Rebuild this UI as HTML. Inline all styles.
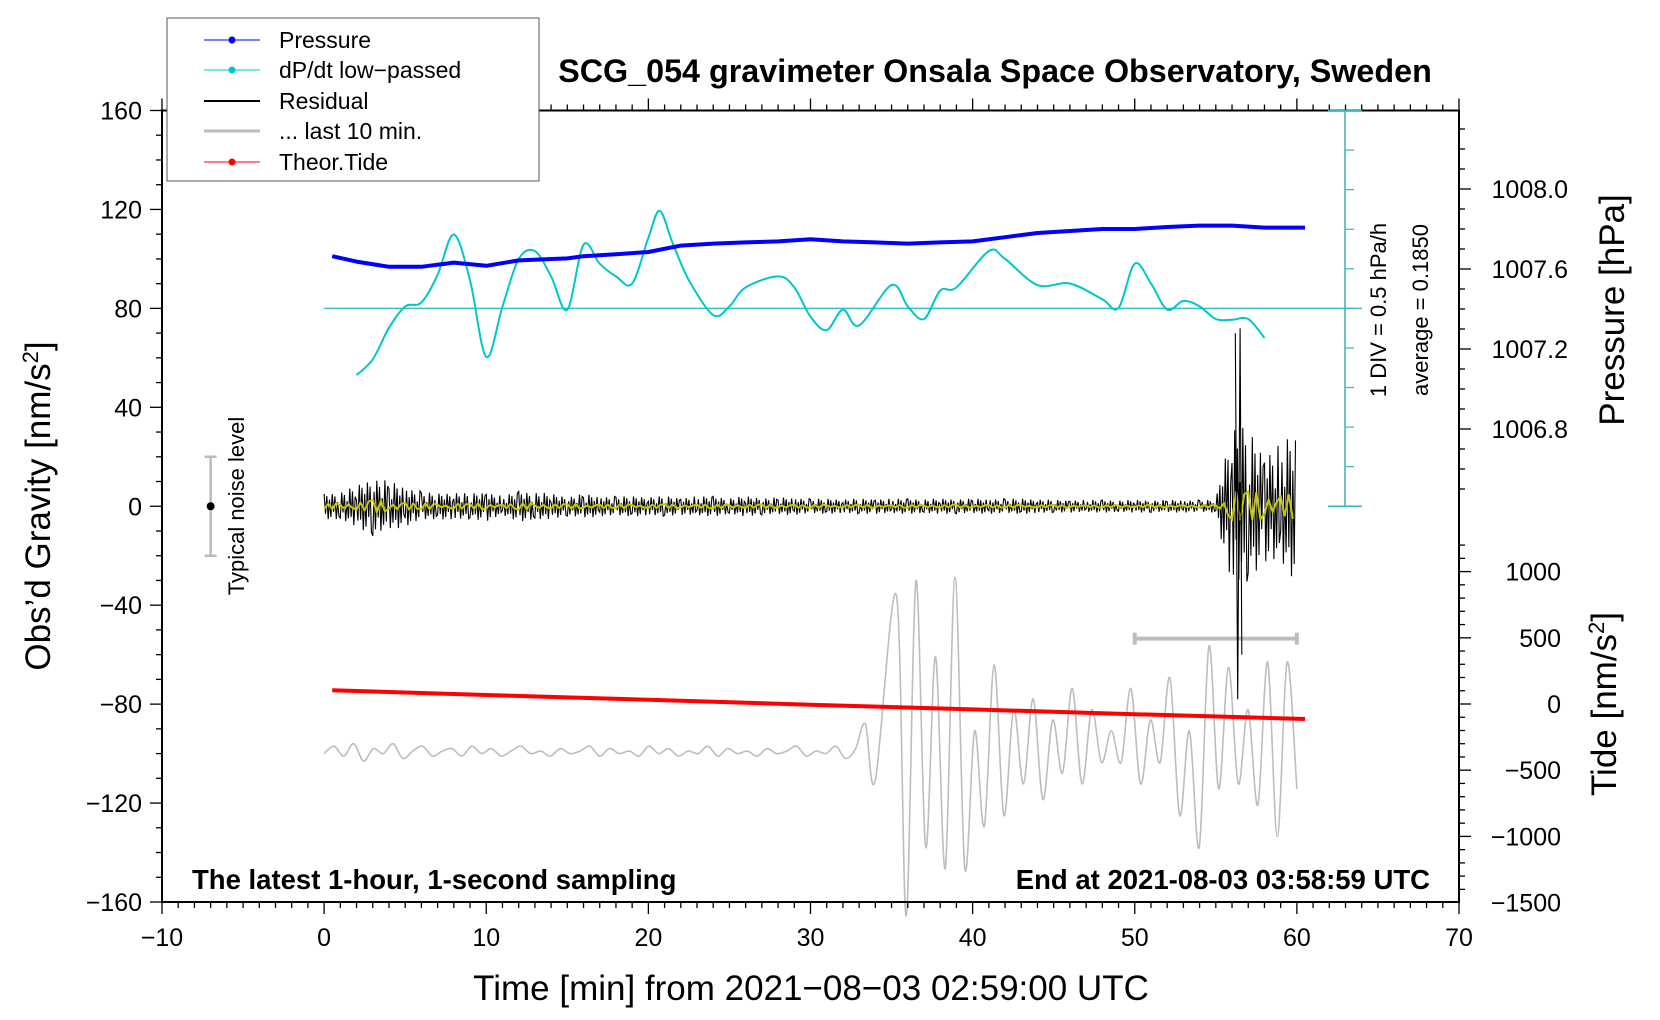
<!DOCTYPE html>
<html><head><meta charset="utf-8"><style>
html,body{margin:0;padding:0;background:#fff;}
svg{display:block;font-family:"Liberation Sans",sans-serif;}
</style></head><body>
<svg id="chart" width="1660" height="1020" viewBox="0 0 1660 1020" xmlns="http://www.w3.org/2000/svg">
<g id="grid"></g>
<g id="series"></g>
<g id="axes"></g>
<g id="labels">
<text x="995" y="82" font-size="32.3" font-weight="bold" text-anchor="middle">SCG_054 gravimeter Onsala Space Observatory, Sweden</text>
<text x="192" y="889" font-size="27.5" font-weight="bold">The latest 1-hour, 1-second sampling</text>
<text x="1430" y="889" font-size="27.5" font-weight="bold" text-anchor="end">End at 2021-08-03 03:58:59 UTC</text>
<text x="811" y="1000" font-size="35" text-anchor="middle">Time [min] from 2021−08−03 02:59:00 UTC</text>
<text transform="translate(50,506) rotate(-90)" font-size="35" text-anchor="middle">Obs’d Gravity [nm/s<tspan baseline-shift="super" font-size="22">2</tspan>]</text>
<text transform="translate(1624,310) rotate(-90)" font-size="35" text-anchor="middle">Pressure [hPa]</text>
<text transform="translate(1616,704) rotate(-90)" font-size="35" text-anchor="middle">Tide [nm/s<tspan baseline-shift="super" font-size="22">2</tspan>]</text>
<text transform="translate(244,506) rotate(-90)" font-size="22" text-anchor="middle">Typical noise level</text>
<text transform="translate(1386,310) rotate(-90)" font-size="22" text-anchor="middle">1 DIV = 0.5 hPa/h</text>
<text transform="translate(1428,310) rotate(-90)" font-size="22" text-anchor="middle">average = 0.1850</text>
</g>
<g id="legend">
<rect x="167" y="18" width="372" height="163" fill="#fff" stroke="#555" stroke-width="1"/>
<g><line x1="204" y1="40" x2="260" y2="40" stroke="#0000ff" stroke-width="1"/><circle cx="232" cy="40" r="3.5" fill="#0000ff"/><text x="279" y="48" font-size="23">Pressure</text></g>
<g><line x1="204" y1="70" x2="260" y2="70" stroke="#00c8c8" stroke-width="1"/><circle cx="232" cy="70" r="3.5" fill="#00c8c8"/><text x="279" y="78" font-size="23">dP/dt low−passed</text></g>
<g><line x1="204" y1="101" x2="260" y2="101" stroke="#000" stroke-width="2"/><text x="279" y="109" font-size="23">Residual</text></g>
<g><line x1="204" y1="131" x2="260" y2="131" stroke="#bbb" stroke-width="3"/><text x="279" y="139" font-size="23">... last 10 min.</text></g>
<g><line x1="204" y1="162" x2="260" y2="162" stroke="#ff0000" stroke-width="1"/><circle cx="232" cy="162" r="3.5" fill="#ff0000"/><text x="279" y="170" font-size="23">Theor.Tide</text></g>
</g>
</svg>
<script>
// ---- data ----
const xTicks = [-10,0,10,20,30,40,50,60,70];
const yTicks = [160,120,80,40,0,-40,-80,-120,-160];
const pTicks = [1008.0,1007.6,1007.2,1006.8];
const tideTicks = [1000,500,0,-500,-1000,-1500];
const pressTimes = [0.5,2,4,6,8,10,12,15,16,18,20,22,24,26,28,30,32,34,36,38,40,42,44,46,48,50,52,54,56,58,60.5];
const pressVals = [1007.664,1007.637,1007.611,1007.611,1007.632,1007.616,1007.643,1007.653,1007.664,1007.674,1007.685,1007.717,1007.727,1007.733,1007.738,1007.749,1007.738,1007.733,1007.727,1007.733,1007.738,1007.759,1007.78,1007.79,1007.80,1007.80,1007.81,1007.817,1007.817,1007.807,1007.807];
const dpTimes = [2,3,4,5,6,7,8,9,10,11,12,13,14,15,16,17,18,19,20,20.7,21.5,22.5,24,25,26,28,29,30,31,32,33,35,36,37,38,39,41,42,44,46,48,49,50,51,52,53,54,55,56,57,58];
const dpVals = [-0.66,-0.46,-0.06,0.21,0.26,0.61,1.12,0.54,-0.43,0.21,0.81,0.91,0.59,0.17,0.99,0.75,0.59,0.50,1.08,1.42,1.01,0.54,0.10,0.21,0.45,0.59,0.45,0.08,-0.09,0.17,-0.03,0.48,0.21,0.05,0.41,0.45,0.91,0.81,0.48,0.50,0.30,0.19,0.75,0.50,0.17,0.28,0.21,0.05,0.04,0.05,-0.19];
const dpAverage = 0.185;
const residAmp = [5,6,8,12,10,8,6,5,6,5,6,4,6,6,5,4,5,4,4,4,4,4,3.5,4,4,3.5,4,3.5,3.5,3.5,3,3,3,3,3,3,3,3,3,3,3,3,3,3,3,2.5,2.5,2.5,2.5,2.5,2.5,2.5,2.5,2.5,2.5,2.5,35,30,22,25,30];
const greyEarly = [-100,-97,-101,-96,-103,-98,-100,-96,-102,-99,-97,-101,-99,-98,-101,-97,-100,-98,-101,-99,-97,-100,-99,-101,-98,-100,-99,-97,-101,-98,-100,-99,-101,-97,-100,-98,-101,-99,-100,-97,-101,-98,-100,-99,-101,-98,-100,-99,-97,-101,-99,-100,-97,-102,-98,-88,-111];
const greyPeaks = [-36,-175,-30,-137.9,-60.8,-146.4,-28.7,-146.4,-90.8,-129.3,-64.2,-125,-82.2,-112.2,-77.9,-118.6,-86.5,-107.9,-73.7,-112.2,-82.2,-103.6,-90.8,-103.6,-73.7,-112.2,-86.5,-103.6,-69.4,-125,-90.8,-137.9,-56.5,-114.3,-65.1,-112.2,-82.2,-120.8,-63,-133.6,-63,-114.3];
const tideTimes = [0.5,10,20,30,40,50,60.5];
const tideVals = [104,68,32,-5,-41,-77,-113];

const X0=162, X1=1459, Yt=110.5, Yb=902;
const xS = t => X0 + (t+10)/80*(X1-X0);
const yS = g => Yt + (160-g)/320*(Yb-Yt);
const pS = p => 189 + (1008.0-p)*200;
const tS = v => 704 - v*0.1324;
const dS = v => yS(80) - (v-dpAverage)*79;

const NS="http://www.w3.org/2000/svg";
function mk(tag, attrs, parent){const e=document.createElementNS(NS,tag);for(const k in attrs)e.setAttribute(k,attrs[k]);parent.appendChild(e);return e;}
const axes=document.getElementById('axes'), ser=document.getElementById('series');

let fr=mk('rect',{x:X0,y:Yt,width:X1-X0,height:Yb-Yt,fill:'none',stroke:'#000','stroke-width':2},axes);



for(let m=-10;m<=70;m++){
  const x=xS(m), major=m%10===0, L=major?12:6;
  mk('line',{x1:x,y1:Yb,x2:x,y2:Yb+L,stroke:'#000','stroke-width':1.3},axes);
  mk('line',{x1:x,y1:Yt,x2:x,y2:Yt-L,stroke:'#000','stroke-width':1.3},axes);
}
xTicks.forEach(v=>{
  const t=mk('text',{x:xS(v),y:946,'font-size':25,'text-anchor':'middle'},axes);
  t.textContent=String(v).replace('-','−');
  
  
});
for(let g=-160;g<=160;g+=10){
  const y=yS(g), L=g%40===0?12:6;
  mk('line',{x1:X0,y1:y,x2:X0-L,y2:y,stroke:'#000','stroke-width':1.3},axes);
}
yTicks.forEach(v=>{
  const t=mk('text',{x:X0-20,y:yS(v)+9,'font-size':25,'text-anchor':'end'},axes);
  t.textContent=String(v).replace('-','−');
  
  
});
for(let k=0;k<=19;k++){
  const p=1008.4-k*0.1, y=pS(p); if(y<Yt-1||y>500) continue;
  const major=Math.abs(Math.round(p*10)%4)===0;
  mk('line',{x1:X1,y1:y,x2:X1+(major?12:6),y2:y,stroke:'#000','stroke-width':1.3},axes);
}
pTicks.forEach(v=>{
  const t=mk('text',{x:1568,y:pS(v)+9,'font-size':25,'text-anchor':'end'},axes);
  t.textContent=v.toFixed(1);
  
  
});
for(let v=-1500;v<=1200;v+=100){
  const y=tS(v); if(y<515||y>Yb) continue;
  mk('line',{x1:X1,y1:y,x2:X1+(v%500===0?12:6),y2:y,stroke:'#000','stroke-width':1.3},axes);
}
tideTicks.forEach(v=>{
  const t=mk('text',{x:1561,y:tS(v)+9,'font-size':25,'text-anchor':'end'},axes);
  t.textContent=String(v).replace('-','−');
  
  
});

const cx=1345;
mk('line',{x1:cx,y1:Yt,x2:cx,y2:yS(0),stroke:'#3cb4b4','stroke-width':1.5},axes);
mk('line',{x1:cx-17,y1:Yt,x2:cx+17,y2:Yt,stroke:'#3cb4b4','stroke-width':1.5},axes);
mk('line',{x1:cx-17,y1:yS(0),x2:cx+17,y2:yS(0),stroke:'#3cb4b4','stroke-width':1.5},axes);
for(let k=1;k<10;k++){const y=Yt+k*(yS(0)-Yt)/10;mk('line',{x1:cx,y1:y,x2:cx+9,y2:y,stroke:'#3cb4b4','stroke-width':1.2},axes);}
let avg=mk('line',{x1:xS(0),y1:dS(dpAverage),x2:cx+17,y2:dS(dpAverage),stroke:'#3cc0c0','stroke-width':1.5},ser);



function pathFrom(xs,ys){return xs.map((x,i)=>(i?'L':'M')+x.toFixed(1)+' '+ys[i].toFixed(1)).join(' ');}
function smoothFrom(xs,ys){
  let d='M'+xs[0].toFixed(1)+' '+ys[0].toFixed(1);
  for(let i=0;i<xs.length-1;i++){
    const x0=xs[Math.max(i-1,0)],y0=ys[Math.max(i-1,0)],x1=xs[i],y1=ys[i],x2=xs[i+1],y2=ys[i+1],x3=xs[Math.min(i+2,xs.length-1)],y3=ys[Math.min(i+2,xs.length-1)];
    const c1x=x1+(x2-x0)/6,c1y=y1+(y2-y0)/6,c2x=x2-(x3-x1)/6,c2y=y2-(y3-y1)/6;
    d+=` C${c1x.toFixed(1)} ${c1y.toFixed(1)} ${c2x.toFixed(1)} ${c2y.toFixed(1)} ${x2.toFixed(1)} ${y2.toFixed(1)}`;
  }
  return d;
}

let gx=[],gy=[];
greyEarly.forEach((v,i)=>{gx.push(xS(i*34.6/greyEarly.length));gy.push(yS(v));});
greyPeaks.forEach((v,i)=>{gx.push(xS(35.3+i*(24.7/(greyPeaks.length-1))));gy.push(Math.min(yS(v),Yb+14));});
let gp=mk('path',{d:smoothFrom(gx,gy),fill:'none',stroke:'#bdbdbd','stroke-width':1.6},ser);


let rb=mk('path',{d:`M${xS(50)} ${yS(-53.5)} L${xS(60)} ${yS(-53.5)} M${xS(50)} ${yS(-53.5)-6} V${yS(-53.5)+6} M${xS(60)} ${yS(-53.5)-6} V${yS(-53.5)+6}`,stroke:'#bdbdbd','stroke-width':4,fill:'none'},ser);



let nb=mk('path',{d:`M${xS(-7)} ${yS(20)} V${yS(-20)} M${xS(-7)-6} ${yS(20)} h12 M${xS(-7)-6} ${yS(-20)} h12`,stroke:'#bbb','stroke-width':2.5,fill:'none'},ser);


mk('circle',{cx:xS(-7),cy:yS(0),r:4,fill:'#000'},ser);

let tp=mk('path',{d:pathFrom(tideTimes.map(xS),tideVals.map(tS)),fill:'none',stroke:'#ff0000','stroke-width':4},ser);



const pat=[1,-0.6,0.8,-1,0.5,-0.8,0.9,-0.4,0.7,-0.9,0.3,-0.7];
let rx=[],ry=[],yx=[],yy=[];
for(let m=0;m<residAmp.length-1;m++){
  for(let k=0;k<12;k++){
    const t=m+k/12; const a=residAmp[m]*(1-k/12)+residAmp[m+1]*(k/12);
    rx.push(xS(t)); ry.push(yS(a*pat[(k+m*5)%12]));
    if(k%3===0){yx.push(xS(t)); yy.push(yS(a*0.22*pat[(k+m*7+3)%12]));}
  }
}
let rp=mk('path',{d:pathFrom(rx,ry),fill:'none',stroke:'#000','stroke-width':1.1},ser);


let yp=mk('path',{d:pathFrom(yx,yy),fill:'none',stroke:'#c8c800','stroke-width':2},ser);


let sp=mk('path',{d:pathFrom([xS(56.2),xS(56.35),xS(56.5),xS(56.6)],[yS(70),yS(-78),yS(72),yS(-60)]),fill:'none',stroke:'#000','stroke-width':1.1},ser);



let dp=mk('path',{d:smoothFrom(dpTimes.map(xS),dpVals.map(dS)),fill:'none',stroke:'#00c8c8','stroke-width':2,'stroke-linejoin':'round'},ser);



let pp=mk('path',{d:pathFrom(pressTimes.map(xS),pressVals.map(pS)),fill:'none',stroke:'#0000ff','stroke-width':4,'stroke-linejoin':'round'},ser);


</script>
</body></html>
